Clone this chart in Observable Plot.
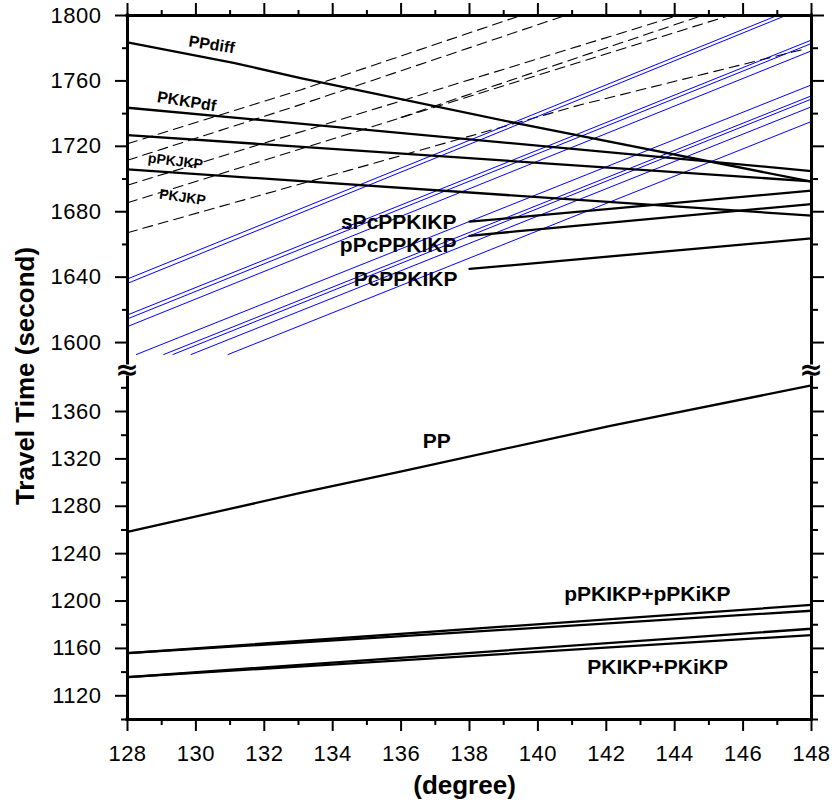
<!DOCTYPE html>
<html>
<head>
<meta charset="utf-8">
<script src="https://cdn.jsdelivr.net/npm/d3@7"></script>
<script src="https://cdn.jsdelivr.net/npm/@observablehq/plot@0.6"></script>
<style>
  html, body { margin: 0; padding: 0; background: #fff; }
  #wrap { position: relative; width: 836px; height: 809px; background: #fff;
          font-family: "Liberation Sans", Arial, Helvetica, sans-serif; }
  #wrap svg { position: absolute; left: 0; }
  g[aria-label$="tick label"] text { letter-spacing: 0.5px; }
  .brk { position: absolute; font-family: "DejaVu Sans", sans-serif; font-weight: bold;
         font-size: 28px; line-height: 1; transform: translate(-50%, -50%); color: #000; }
  .ylab { position: absolute; left: 25px; top: 376px; white-space: nowrap;
          transform: translate(-50%, -50%) rotate(-90deg); font-weight: bold; font-size: 26px; }
</style>
</head>
<body>
<div id="wrap"></div>
<script>
// ---------- tick values ----------
const xMajor = [128, 130, 132, 134, 136, 138, 140, 142, 144, 146, 148];
const xMinor = [129, 131, 133, 135, 137, 139, 141, 143, 145, 147];
const upperMajor = [1600, 1640, 1680, 1720, 1760, 1800];
const upperMinor = [1620, 1660, 1700, 1740, 1780];
const lowerMajor = [1120, 1160, 1200, 1240, 1280, 1320, 1360];
const lowerMinor = [1100, 1140, 1180, 1220, 1260, 1300, 1340, 1380];

// ---------- upper panel: solid black travel-time curves [degree, seconds] ----------
const PPdiff   = [[128, 1783.5], [131.1, 1771.1], [133.06, 1761.7], [139.4, 1734], [148, 1698.4]];
const PKKPdf   = [[128, 1743.6], [148, 1704.9]];
const pPKKPdf  = [[128, 1726.9], [148, 1698.6]];
const PKKPdf2  = [[128, 1705.9], [148, 1677.6]];
const sPcPPKIKP = [[138.0, 1673.9], [148, 1692.9]];
const pPcPPKIKP = [[138.0, 1665.3], [148, 1684.7]];
const PcPPKIKP  = [[138.0, 1645.0], [148, 1663.7]];

// ---------- upper panel: dashed curves ----------
const dash1 = [[128, 1721.6], [133.06, 1754.5], [139.5, 1800]];
const dash2 = [[128, 1711.5], [133.06, 1745.5], [140.8, 1800]];
const dash3 = [[128, 1696.2], [144.1, 1800]];
const dash4 = [[128, 1685.5], [145.6, 1800]];
const dash5 = [[136, 1737.7], [144.8, 1800]];
const dash6 = [[128, 1667.2], [134.52, 1705.6], [141.25, 1745.4], [147.8, 1779.5]];

// ---------- upper panel: blue curves ----------
const blue1  = [[128, 1638.9], [147.0, 1800]];
const blue2  = [[128, 1636.2], [147.25, 1800]];
const blue3  = [[128, 1616.9], [148, 1785.0]];
const blue4  = [[128, 1614.5], [148, 1782.9]];
const blue5  = [[128, 1609.8], [148, 1778.4]];
const blue6  = [[128.26, 1592.7], [148, 1757.6]];
const blue7  = [[129.06, 1592.7], [148, 1750.9]];
const blue8  = [[129.33, 1592.7], [148, 1748.9]];
const blue9  = [[129.86, 1592.7], [148, 1744.2]];
const blue10 = [[130.94, 1592.7], [148, 1735.2]];

// ---------- lower panel ----------
const PP     = [[128, 1258.3], [133.06, 1291.3], [135.98, 1309.3], [142.12, 1347.9], [148, 1382]];
const pPKIKP = [[128, 1156], [148, 1196.7]];
const pPKiKP = [[128, 1156], [148, 1191.8]];
const PKIKP  = [[128, 1135.8], [148, 1176.6]];
const PKiKP  = [[128, 1135.8], [148, 1171.3]];

// ---------- build tables ----------
const toRows = (series) => series.flatMap(([name, pts]) => pts.map(([deg, t]) => ({name, deg, t})));
const blackUpper = toRows([["PPdiff", PPdiff], ["PKKPdf", PKKPdf], ["pPKKPdf", pPKKPdf], ["PKKPdf2", PKKPdf2],
                           ["sPcPPKIKP", sPcPPKIKP], ["pPcPPKIKP", pPcPPKIKP], ["PcPPKIKP", PcPPKIKP]]);
const dashedUpper = toRows([["d1", dash1], ["d2", dash2], ["d3", dash3], ["d4", dash4], ["d5", dash5], ["d6", dash6]]);
const blueUpper = toRows([["b1", blue1], ["b2", blue2], ["b3", blue3], ["b4", blue4], ["b5", blue5],
                          ["b6", blue6], ["b7", blue7], ["b8", blue8], ["b9", blue9], ["b10", blue10]]);
const blackLower = toRows([["PP", PP], ["pPKIKP", pPKIKP], ["pPKiKP", pPKiKP], ["PKIKP", PKIKP], ["PKiKP", PKiKP]]);

// ---------- annotations (label anchor positions) ----------
const curveLabels = [
  {label: "PPdiff", deg: 130.46, t: 1782.1, rot: 9, size: 16},
  {label: "PKKPdf", deg: 129.73, t: 1747.4, rot: 9, size: 16},
  {label: "pPKJKP", deg: 129.40, t: 1710.8, rot: 7, size: 14},
  {label: "PKJKP",  deg: 129.61, t: 1688.8, rot: 8, size: 14}
];
const leaderLabels = [
  {label: "sPcPPKIKP", deg: 137.62, t: 1673.3},
  {label: "pPcPPKIKP", deg: 137.62, t: 1659.3},
  {label: "PcPPKIKP",  deg: 137.65, t: 1638.5}
];
const lowerLabels = [
  {label: "PP", deg: 137.04, t: 1334.7},
  {label: "pPKIKP+pPKiKP", deg: 143.2, t: 1205.5},
  {label: "PKIKP+PKiKP", deg: 143.5, t: 1143.9}
];

const font = '"Liberation Sans", Arial, Helvetica, sans-serif';
const blank = () => "";
const plain = (d) => String(d);

const upper = Plot.plot({
  width: 836, height: 370,
  marginLeft: 127, marginRight: 25, marginTop: 15, marginBottom: 7,
  style: {fontFamily: font, fontSize: "22px", background: "transparent", overflow: "visible", color: "black"},
  x: {domain: [128, 148]},
  y: {domain: [1587.2, 1800]},
  marks: [
    Plot.line(dashedUpper, {x: "deg", y: "t", z: "name", stroke: "black", strokeWidth: 1.1, strokeDasharray: "10,6"}),
    Plot.line(blueUpper, {x: "deg", y: "t", z: "name", stroke: "#0000ff", strokeWidth: 1}),
    Plot.line(blackUpper, {x: "deg", y: "t", z: "name", stroke: "black", strokeWidth: 2.3}),
    Plot.text(curveLabels, {x: "deg", y: "t", text: "label", rotate: "rot", fontSize: "size", fontWeight: "bold", fill: "black"}),
    Plot.text(leaderLabels, {x: "deg", y: "t", text: "label", textAnchor: "end", fontSize: 21, fontWeight: "bold", fill: "black"}),
    Plot.axisY({ticks: upperMajor, anchor: "left", tickSize: 12, tickPadding: 14, strokeWidth: 2, fontSize: 22, tickFormat: plain, label: null}),
    Plot.axisY({ticks: upperMinor, anchor: "left", tickSize: 5, strokeWidth: 2, tickFormat: blank, label: null}),
    Plot.axisY({ticks: upperMajor, anchor: "right", tickSize: 12, strokeWidth: 2, tickFormat: blank, label: null}),
    Plot.axisY({ticks: upperMinor, anchor: "right", tickSize: 6, strokeWidth: 2, tickFormat: blank, label: null}),
    Plot.axisX({ticks: xMajor, anchor: "top", tickSize: 13, strokeWidth: 2, tickFormat: blank, label: null}),
    Plot.axisX({ticks: xMinor, anchor: "top", tickSize: 6, strokeWidth: 2, tickFormat: blank, label: null}),
    Plot.ruleX([128, 148], {strokeWidth: 3, strokeLinecap: "square"}),
    Plot.ruleY([1800], {strokeWidth: 3, strokeLinecap: "square"})
  ]
});
upper.style.top = "0px";

const lower = Plot.plot({
  width: 836, height: 439,
  marginLeft: 127, marginRight: 25, marginTop: 7, marginBottom: 90,
  style: {fontFamily: font, fontSize: "22px", background: "transparent", overflow: "visible", color: "black"},
  x: {domain: [128, 148]},
  y: {domain: [1100, 1388.7]},
  marks: [
    Plot.line(blackLower, {x: "deg", y: "t", z: "name", stroke: "black", strokeWidth: 2.3}),
    Plot.text(lowerLabels, {x: "deg", y: "t", text: "label", fontSize: 21, fontWeight: "bold", fill: "black"}),
    Plot.axisY({ticks: lowerMajor, anchor: "left", tickSize: 12, tickPadding: 14, strokeWidth: 2, fontSize: 22, tickFormat: plain, label: null}),
    Plot.axisY({ticks: lowerMinor, anchor: "left", tickSize: 6, strokeWidth: 2, tickFormat: blank, label: null}),
    Plot.axisY({ticks: lowerMajor, anchor: "right", tickSize: 12, strokeWidth: 2, tickFormat: blank, label: null}),
    Plot.axisY({ticks: lowerMinor, anchor: "right", tickSize: 6, strokeWidth: 2, tickFormat: blank, label: null}),
    Plot.axisX({ticks: xMajor, anchor: "bottom", tickSize: 12, tickPadding: 14, strokeWidth: 2, fontSize: 22, tickFormat: plain, label: null}),
    Plot.axisX({ticks: xMinor, anchor: "bottom", tickSize: 6, strokeWidth: 2, tickFormat: blank, label: null}),
    Plot.ruleX([128, 148], {strokeWidth: 3, strokeLinecap: "square"}),
    Plot.ruleY([1100], {strokeWidth: 3, strokeLinecap: "square"}),
    Plot.text(["(degree)"], {frameAnchor: "bottom", dy: 74, dx: -5, fontSize: 26, fontWeight: "bold", fill: "black"})
  ]
});
lower.style.top = "370px";

const wrap = document.getElementById("wrap");
wrap.appendChild(upper);
wrap.appendChild(lower);

for (const x of [127, 811]) {
  const b = document.createElement("div");
  b.className = "brk";
  b.textContent = "≈";
  b.style.left = x + "px";
  b.style.top = "370px";
  wrap.appendChild(b);
}
const yl = document.createElement("div");
yl.className = "ylab";
yl.textContent = "Travel Time (second)";
wrap.appendChild(yl);
</script>
</body>
</html>
